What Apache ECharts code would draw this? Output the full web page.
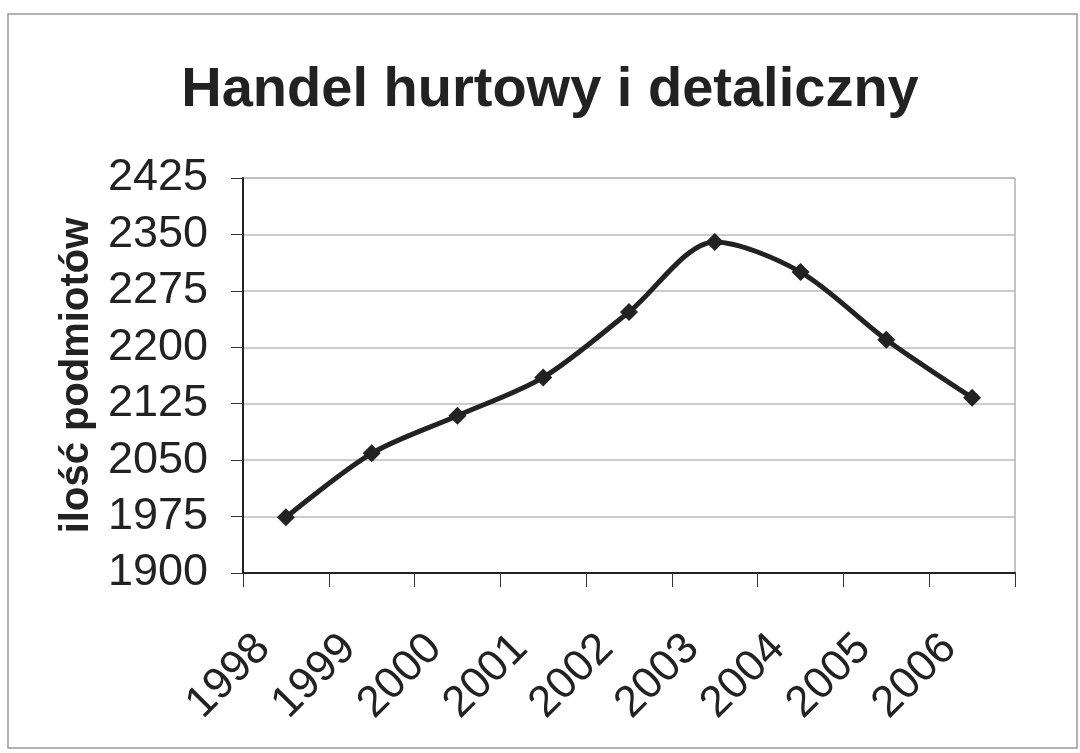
<!DOCTYPE html>
<html>
<head>
<meta charset="utf-8">
<script src="https://cdn.jsdelivr.net/npm/echarts@6/dist/echarts.min.js"></script>
<style>
html,body{margin:0;padding:0;background:#fff;}
#c{width:1080px;height:753px;}
</style>
</head>
<body>
<div id="c"></div>
<script>
const years = ['1998','1999','2000','2001','2002','2003','2004','2005','2006'];
const values = [1974, 2059, 2109, 2160, 2247, 2340, 2300, 2210, 2133];
const yMin = 1900, yMax = 2425, yStep = 75;
const titleText = 'Handel hurtowy i detaliczny';
const yName = 'ilość podmiotów';

const chart = echarts.init(document.getElementById('c'), null, {renderer:'canvas'});
chart.setOption({
  backgroundColor: '#fff',
  animation: false,
  title: {
    text: titleText,
    left: 545, top: 58, textAlign: 'center',
    textStyle: {fontFamily: 'Liberation Sans, Arial', fontWeight: 'bold', fontSize: 56, color: '#222'}
  },
  graphic: [{
    type: 'rect', shape: {x: 8, y: 14, width: 1069, height: 734},
    style: {fill: 'none', stroke: '#999', lineWidth: 1.5}, silent: true, z: -1
  }],
  grid: {left: 243, right: 65, top: 178, bottom: 180, show: true, borderColor: '#888', borderWidth: 1},
  xAxis: {
    type: 'category', data: years, boundaryGap: true,
    axisLine: {lineStyle: {color: '#222', width: 2}},
    axisTick: {show: true, inside: false, length: 14, lineStyle: {color: '#333', width: 1}},
    axisLabel: {rotate: 45, margin: 46, padding: [0, 32, 0, 0], fontFamily: 'Liberation Sans, Arial', fontSize: 44, color: '#222'},
    splitLine: {show: false}
  },
  yAxis: {
    type: 'value', min: yMin, max: yMax, interval: yStep,
    name: yName, nameLocation: 'middle', nameGap: 142, nameRotate: 90,
    nameTextStyle: {fontFamily: 'Liberation Sans, Arial', fontWeight: 'bold', fontSize: 40, color: '#222'},
    axisLine: {show: true, lineStyle: {color: '#222', width: 2}},
    axisTick: {show: true, inside: false, length: 12, lineStyle: {color: '#333', width: 1}},
    axisLabel: {margin: 35, formatter: v => String(v), fontFamily: 'Liberation Sans, Arial', fontSize: 45, color: '#222'},
    splitLine: {show: true, lineStyle: {color: '#bbb', width: 1.5}}
  },
  series: [{
    type: 'line', data: values, smooth: 0.3,
    symbol: 'diamond', symbolSize: 18,
    lineStyle: {color: '#222', width: 5},
    itemStyle: {color: '#222'}
  }]
});
</script>
</body>
</html>
